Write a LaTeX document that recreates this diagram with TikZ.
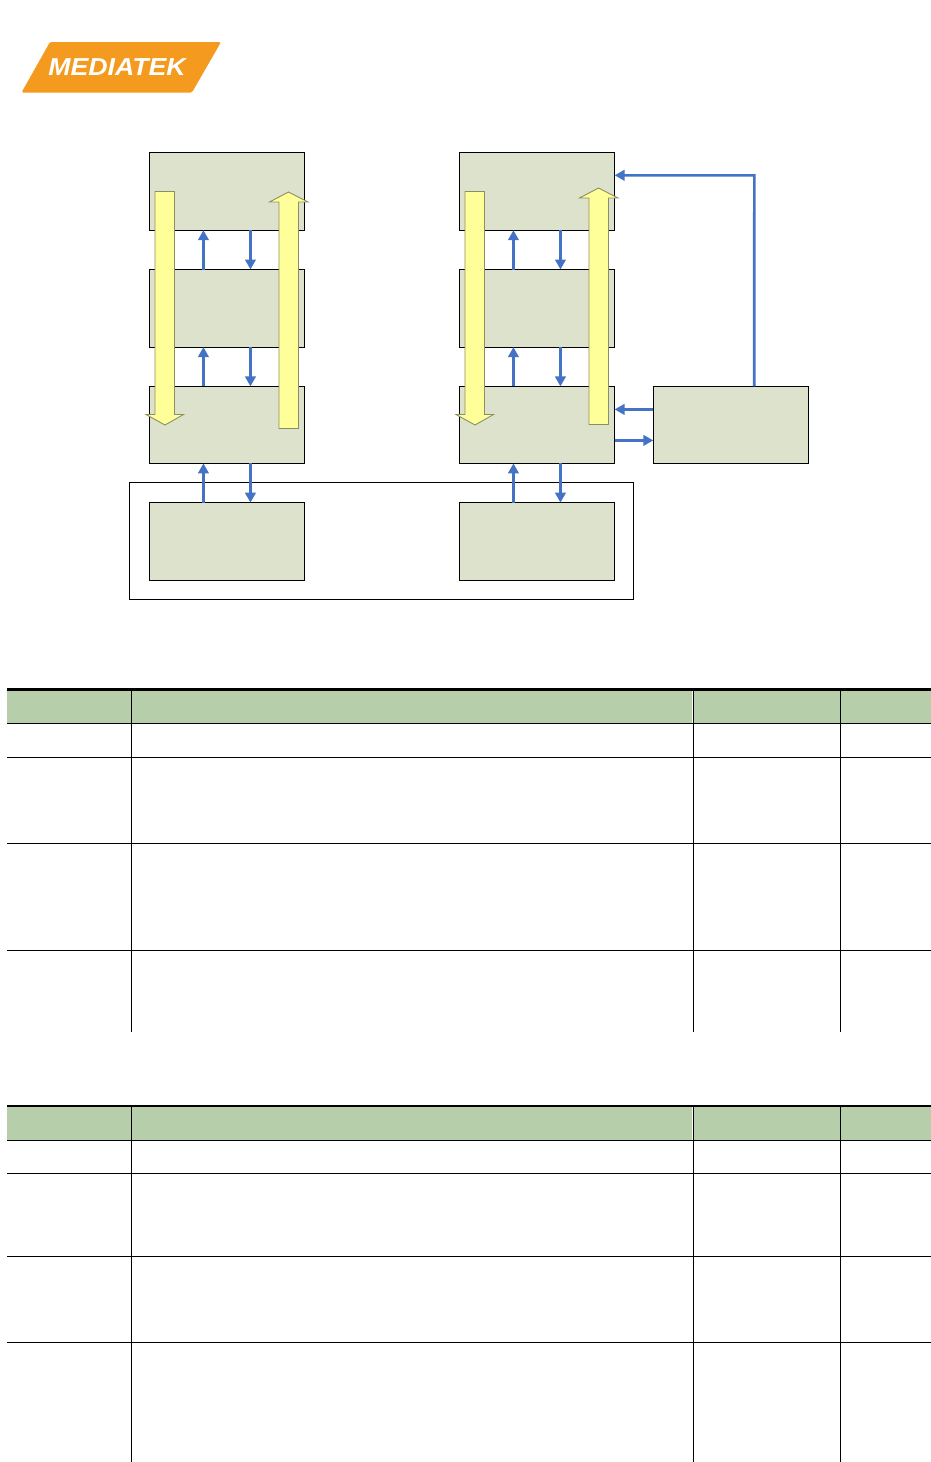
\documentclass[tikz,border=0pt]{standalone}
\usepackage{fontspec}
\setmainfont{Liberation Sans}
\usetikzlibrary{arrows.meta}
\definecolor{boxfill}{HTML}{DDE2CD}
\definecolor{headfill}{HTML}{B7CEAB}
\definecolor{conn}{HTML}{4472C4}
\definecolor{busfill}{HTML}{FFFF99}
\definecolor{busline}{HTML}{8E8E62}
\definecolor{logo}{HTML}{F39A1F}
\tikzset{
  x=1pt,y=-1pt,
  blockbox/.style={draw=black,fill=boxfill,line width=1.1pt,minimum width=155.3pt,minimum height=77.6pt,inner sep=0pt,outer sep=0pt,anchor=north west},
  group/.style={draw=black,line width=1.1pt},
  link/.style={draw=conn,line width=2.6pt,-{Triangle[length=10pt,width=10.5pt]}},
  bus/.style={draw=busline,fill=busfill,line width=0.9pt},
  rowline/.style={draw=black,line width=1.1pt},
  headband/.style={fill=headfill,draw=none}
}
\begin{document}
\begin{tikzpicture}
\useasboundingbox (0,0) rectangle (931,1462);
% logo
\fill[logo,rounded corners=1.5pt] (50,42) -- (221,42) -- (192,92.5) -- (21.5,92.5) -- cycle;
\node[text=white,inner sep=0pt,font=\bfseries\itshape\fontsize{24.5}{24.5}\selectfont] (logotext) at (117,66.8) {\scalebox{1.09}[1]{MEDIATEK}};
% outer group
\draw[group] (129.5,482.8) rectangle (633.3,599.3);
% blocks
\node[blockbox] (a1) at (149.3,152.6) {};
\node[blockbox] (a2) at (149.3,269.5) {};
\node[blockbox,minimum height=77pt] (a3) at (149.3,386.4) {};
\node[blockbox] (a4) at (149.3,502.6) {};
\node[blockbox] (b1) at (459.3,152.6) {};
\node[blockbox] (b2) at (459.3,269.5) {};
\node[blockbox,minimum height=77pt] (b3) at (459.3,386.4) {};
\node[blockbox] (b4) at (459.3,502.6) {};
\node[blockbox,minimum height=77pt] (c) at (653.3,386.4) {};
% vertical links
\foreach \p/\q in {a2/a1,a3/a2,a4/a3,b2/b1,b3/b2,b4/b3}{
  \draw[link] ([xshift=-23.5pt]\p.north) -- ([xshift=-23.5pt]\q.south);
  \draw[link] ([xshift=23.5pt]\q.south) -- ([xshift=23.5pt]\p.north);
}
% side links
\draw[link] ([yshift=15.5pt]c.west) -- ([yshift=15.5pt]b3.east);
\draw[link] ([yshift=-15.5pt]b3.east) -- ([yshift=-15.5pt]c.west);
\coordinate (ctop) at (754.3,175.3);
\draw[link] ([xshift=23.3pt]c.north) -- (ctop) -- (ctop -| b1.east);
% buses
\path[bus] (155,191.5) -- (174.5,191.5) -- (174.5,414.5) -- (183.5,414.5) -- (165,425) -- (146,414.5) -- (155,414.5) -- cycle;
\path[bus] (279,428.5) -- (298.5,428.5) -- (298.5,202) -- (308,202) -- (288.5,192) -- (269.5,202) -- (279,202) -- cycle;
\path[bus] (465,191.5) -- (484.5,191.5) -- (484.5,414.5) -- (493.5,414.5) -- (475,425) -- (456,414.5) -- (465,414.5) -- cycle;
\path[bus] (589,424.5) -- (608.5,424.5) -- (608.5,198) -- (618,198) -- (598.5,188) -- (579.5,198) -- (589,198) -- cycle;
% table 1
\fill[headband] (7,690) rectangle (931,723.3);
\draw[draw=black,line width=3pt] (7,689.5) -- (931,689.5);
\foreach \y in {723.3,757.3,843.3,950.3}{\draw[rowline] (7,\y) -- (931,\y);}
\draw[rowline] (131.5,691) -- (131.5,1032);
\draw[rowline] (693.4,691) -- (693.4,1032);
\draw[draw=white,line width=0.9pt] (692.3,691) -- (692.3,722.7);
\draw[rowline] (840.5,691) -- (840.5,1032);
% table 2
\fill[headband] (7,1106) rectangle (931,1140.2);
\draw[draw=black,line width=2pt] (7,1106) -- (931,1106);
\foreach \y in {1140.2,1173.4,1256.4,1342.4}{\draw[rowline] (7,\y) -- (931,\y);}
\draw[rowline] (131.5,1107) -- (131.5,1462);
\draw[rowline] (693.4,1107) -- (693.4,1462);
\draw[draw=white,line width=0.9pt] (692.3,1107) -- (692.3,1139.6);
\draw[rowline] (840.5,1107) -- (840.5,1462);
\end{tikzpicture}
\end{document}
